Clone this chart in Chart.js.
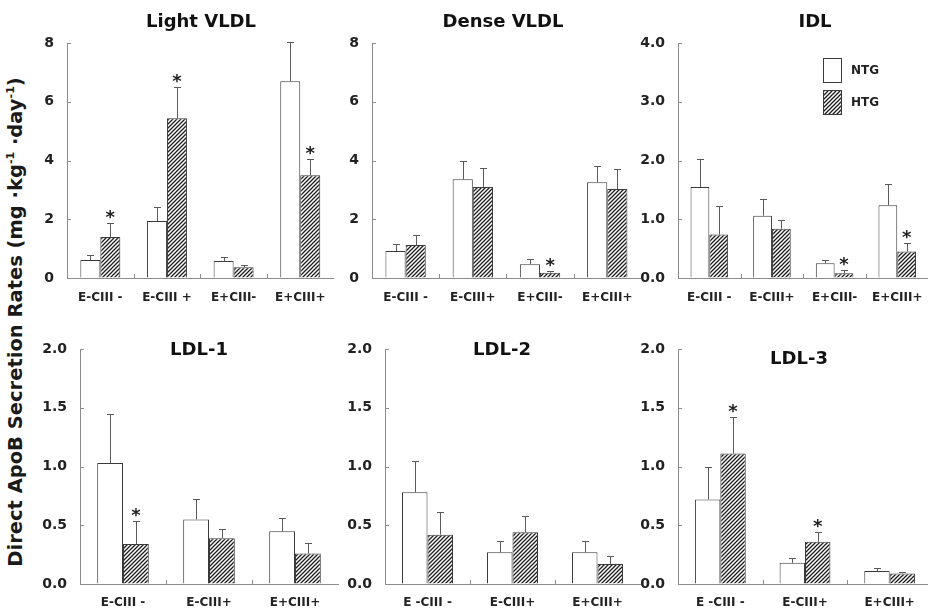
<!DOCTYPE html>
<html>
<head>
<meta charset="utf-8">
<title>Direct ApoB Secretion Rates</title>
<script src="https://cdn.jsdelivr.net/npm/chart.js@4.4.1/dist/chart.umd.min.js"></script>
<style>
  html, body { margin: 0; padding: 0; background: #fff; }
  body { position: relative; width: 928px; height: 614px; overflow: hidden; font-family: "DejaVu Sans", sans-serif; }
  canvas { position: absolute; }
  #yTitle {
    position: absolute; left: 15px; top: 322px;
    transform: translate(-50%, -50%) rotate(-90deg);
    white-space: nowrap; font-weight: bold; font-size: 19.5px; color: #1a1a1a;
  }
  #yTitle sup { font-size: 11px; }
</style>
</head>
<body>
<div id="yTitle">Direct ApoB Secretion Rates (mg ·kg<sup>-1</sup> ·day<sup>-1</sup>)</div>
<script>
// ---- data (means, SD, significance vs NTG) ----
const seriesNames = ['NTG', 'HTG'];

const lightCats  = ['E-CIII -', 'E-CIII +', 'E+CIII-', 'E+CIII+'];
const lightNTG   = [0.61, 1.94, 0.58, 6.70];
const lightNTGsd = [0.17, 0.47, 0.13, 1.33];
const lightHTG   = [1.40, 5.44, 0.37, 3.50];
const lightHTGsd = [0.47, 1.06, 0.07, 0.55];
const lightSig   = [true, true, false, true];

const denseCats  = ['E-CIII -', 'E-CIII+', 'E+CIII-', 'E+CIII+'];
const denseNTG   = [0.92, 3.36, 0.47, 3.26];
const denseNTGsd = [0.24, 0.64, 0.17, 0.54];
const denseHTG   = [1.12, 3.10, 0.18, 3.03];
const denseHTGsd = [0.34, 0.66, 0.07, 0.69];
const denseSig   = [false, false, true, false];

const idlCats  = ['E-CIII -', 'E-CIII+', 'E+CIII-', 'E+CIII+'];
const idlNTG   = [1.55, 1.06, 0.25, 1.24];
const idlNTGsd = [0.47, 0.29, 0.06, 0.36];
const idlHTG   = [0.74, 0.84, 0.08, 0.45];
const idlHTGsd = [0.49, 0.14, 0.06, 0.15];
const idlSig   = [false, false, true, true];

const ldl1Cats  = ['E-CIII -', 'E-CIII+', 'E+CIII+'];
const ldl1NTG   = [1.03, 0.55, 0.45];
const ldl1NTGsd = [0.42, 0.17, 0.11];
const ldl1HTG   = [0.34, 0.39, 0.26];
const ldl1HTGsd = [0.20, 0.08, 0.09];
const ldl1Sig   = [true, false, false];

const ldl2Cats  = ['E -CIII -', 'E-CIII+', 'E+CIII+'];
const ldl2NTG   = [0.78, 0.27, 0.27];
const ldl2NTGsd = [0.27, 0.10, 0.10];
const ldl2HTG   = [0.42, 0.44, 0.17];
const ldl2HTGsd = [0.19, 0.14, 0.07];
const ldl2Sig   = [false, false, false];

const ldl3Cats  = ['E -CIII -', 'E-CIII+', 'E+CIII+'];
const ldl3NTG   = [0.72, 0.18, 0.11];
const ldl3NTGsd = [0.28, 0.04, 0.03];
const ldl3HTG   = [1.11, 0.36, 0.09];
const ldl3HTGsd = [0.31, 0.08, 0.01];
const ldl3Sig   = [true, true, false];

const vldlTicks = [0, 2, 4, 6, 8];
const idlTicks  = [0, 1, 2, 3, 4];
const ldlTicks  = [0, 0.5, 1, 1.5, 2];

// ---- styling ----
const FONT = '"DejaVu Sans", sans-serif';
const AXIS = '#8c8c8c';
const INK  = '#222';
const BAR_EDGE = '#3a3a3a';

function hatchPattern() {
  const s = 4;
  const c = document.createElement('canvas');
  c.width = s; c.height = s;
  const g = c.getContext('2d');
  g.fillStyle = '#fff';
  g.fillRect(0, 0, s, s);
  g.strokeStyle = '#1e1e1e';
  g.lineWidth = 1.3;
  g.beginPath();
  g.moveTo(0, s); g.lineTo(s, 0);
  g.moveTo(-1, 1); g.lineTo(1, -1);
  g.moveTo(s - 1, s + 1); g.lineTo(s + 1, s - 1);
  g.stroke();
  return g.createPattern(c, 'repeat');
}
const HATCH = hatchPattern();

// error bars (upper only) + asterisks for significant HTG values
const errorBars = {
  id: 'errorBars',
  afterDatasetsDraw(chart) {
    const ctx = chart.ctx, y = chart.scales.y;
    chart.data.datasets.forEach((ds, i) => {
      chart.getDatasetMeta(i).data.forEach((bar, j) => {
        const top = Math.round(y.getPixelForValue(ds.data[j] + ds.sd[j])) + 0.5;
        const cx = Math.round(bar.x) + 0.5;
        ctx.save();
        ctx.strokeStyle = '#5a5a5a';
        ctx.lineWidth = 1;
        ctx.beginPath();
        ctx.moveTo(cx, bar.y); ctx.lineTo(cx, top);
        ctx.moveTo(cx - 3.5, top); ctx.lineTo(cx + 3.5, top);
        ctx.stroke();
        if (ds.sig && ds.sig[j]) {
          ctx.fillStyle = INK;
          ctx.font = `bold 18px ${FONT}`;
          ctx.textAlign = 'center';
          ctx.textBaseline = 'alphabetic';
          ctx.fillText('*', bar.x, top - 1);
        }
        ctx.restore();
      });
    });
  }
};

// small inward tick marks like the original plot
const innerTicks = {
  id: 'innerTicks',
  afterDraw(chart) {
    const { ctx, chartArea: a, scales: { x, y } } = chart;
    ctx.save();
    ctx.strokeStyle = AXIS;
    ctx.lineWidth = 1;
    ctx.beginPath();
    y.ticks.forEach(t => {
      const py = Math.round(y.getPixelForValue(t.value)) + 0.5;
      ctx.moveTo(a.left, py); ctx.lineTo(a.left + 4, py);
    });
    for (let i = 1; i < x.ticks.length; i++) {
      const px = Math.round((x.getPixelForValue(i - 1) + x.getPixelForValue(i)) / 2) + 0.5;
      ctx.moveTo(px, a.bottom); ctx.lineTo(px, a.bottom - 4);
    }
    ctx.stroke();
    ctx.restore();
  }
};

const panelTitle = {
  id: 'panelTitle',
  afterDraw(chart, args, opts) {
    if (!opts.text) return;
    const ctx = chart.ctx;
    ctx.save();
    ctx.fillStyle = '#111';
    ctx.font = `bold 18px ${FONT}`;
    ctx.textAlign = 'center';
    ctx.textBaseline = 'middle';
    ctx.fillText(opts.text, opts.x, opts.y);
    ctx.restore();
  }
};

const boxLegend = {
  id: 'boxLegend',
  afterDraw(chart, args, opts) {
    if (!opts.show) return;
    const { ctx, chartArea: a } = chart;
    chart.data.datasets.forEach((ds, i) => {
      const bx = a.left + opts.dx, by = a.top + opts.dy + i * 32;
      ctx.save();
      ctx.fillStyle = ds.backgroundColor;
      ctx.fillRect(bx, by, 19, 25);
      ctx.strokeStyle = BAR_EDGE;
      ctx.lineWidth = 1;
      ctx.strokeRect(bx + 0.5, by + 0.5, 18, 24);
      ctx.fillStyle = INK;
      ctx.font = `bold 12px ${FONT}`;
      ctx.textAlign = 'left';
      ctx.textBaseline = 'middle';
      ctx.fillText(ds.label, bx + 28, by + 13);
      ctx.restore();
    });
  }
};

Chart.register(errorBars, innerTicks, panelTitle, boxLegend);

const ROW_H = 307;
const Y_W = 55;

function makePanel(p) {
  const left = p.area.l - Y_W;
  const w = p.area.r - left + 4;
  const cv = document.createElement('canvas');
  cv.width = w; cv.height = ROW_H;
  cv.style.left = left + 'px';
  cv.style.top = p.rowTop + 'px';
  cv.style.width = w + 'px';
  cv.style.height = ROW_H + 'px';
  document.body.appendChild(cv);

  const barOpts = { borderColor: BAR_EDGE, borderWidth: 1, categoryPercentage: 0.6, barPercentage: 1.0 };

  new Chart(cv, {
    type: 'bar',
    data: {
      labels: p.cats,
      datasets: [
        { label: seriesNames[0], data: p.ntg, sd: p.ntgSd, backgroundColor: '#ffffff', ...barOpts },
        { label: seriesNames[1], data: p.htg, sd: p.htgSd, sig: p.sig, backgroundColor: HATCH, ...barOpts }
      ]
    },
    options: {
      responsive: false,
      devicePixelRatio: 1,
      animation: false,
      layout: { padding: { top: p.area.t - p.rowTop, right: 4, left: 0, bottom: 0 } },
      plugins: {
        legend: { display: false },
        tooltip: { enabled: false },
        panelTitle: { text: p.title, x: p.titleAt[0] - left, y: p.titleAt[1] - p.rowTop },
        boxLegend: { show: !!p.legend, dx: 145, dy: 15 }
      },
      scales: {
        x: {
          grid: { drawOnChartArea: false, drawTicks: false },
          border: { display: true, color: AXIS, width: 1 },
          ticks: { color: INK, font: { family: FONT, size: 12, weight: 'bold' }, padding: p.xPad, maxRotation: 0, autoSkip: false },
          afterFit: s => { s.height = p.rowTop + ROW_H - p.area.b; }
        },
        y: {
          min: 0,
          max: p.ticks[p.ticks.length - 1],
          grid: { drawOnChartArea: false, drawTicks: false },
          border: { display: true, color: AXIS, width: 1 },
          afterBuildTicks: s => { s.ticks = p.ticks.map(v => ({ value: v })); },
          ticks: {
            color: INK,
            padding: 13,
            font: { family: FONT, size: 14, weight: 'bold' },
            callback: v => v.toFixed(p.decimals)
          },
          afterFit: s => { s.width = Y_W; }
        }
      }
    }
  });
}

makePanel({ title: 'Light VLDL', titleAt: [201, 22], rowTop: 0, area: { l: 67, r: 335, t: 43, b: 278 }, xPad: 13,
  cats: lightCats, ntg: lightNTG, ntgSd: lightNTGsd, htg: lightHTG, htgSd: lightHTGsd, sig: lightSig, ticks: vldlTicks, decimals: 0 });
makePanel({ title: 'Dense VLDL', titleAt: [503, 22], rowTop: 0, area: { l: 372, r: 642, t: 43, b: 278 }, xPad: 13,
  cats: denseCats, ntg: denseNTG, ntgSd: denseNTGsd, htg: denseHTG, htgSd: denseHTGsd, sig: denseSig, ticks: vldlTicks, decimals: 0 });
makePanel({ title: 'IDL', titleAt: [815, 22], rowTop: 0, area: { l: 678, r: 932, t: 43, b: 278 }, xPad: 13, legend: true,
  cats: idlCats, ntg: idlNTG, ntgSd: idlNTGsd, htg: idlHTG, htgSd: idlHTGsd, sig: idlSig, ticks: idlTicks, decimals: 1 });
makePanel({ title: 'LDL-1', titleAt: [199, 350], rowTop: 307, area: { l: 80, r: 338, t: 349, b: 584 }, xPad: 12,
  cats: ldl1Cats, ntg: ldl1NTG, ntgSd: ldl1NTGsd, htg: ldl1HTG, htgSd: ldl1HTGsd, sig: ldl1Sig, ticks: ldlTicks, decimals: 1 });
makePanel({ title: 'LDL-2', titleAt: [502, 350], rowTop: 307, area: { l: 385, r: 640, t: 349, b: 584 }, xPad: 12,
  cats: ldl2Cats, ntg: ldl2NTG, ntgSd: ldl2NTGsd, htg: ldl2HTG, htgSd: ldl2HTGsd, sig: ldl2Sig, ticks: ldlTicks, decimals: 1 });
makePanel({ title: 'LDL-3', titleAt: [799, 359], rowTop: 307, area: { l: 678, r: 932, t: 349, b: 584 }, xPad: 12,
  cats: ldl3Cats, ntg: ldl3NTG, ntgSd: ldl3NTGsd, htg: ldl3HTG, htgSd: ldl3HTGsd, sig: ldl3Sig, ticks: ldlTicks, decimals: 1 });
</script>
</body>
</html>
